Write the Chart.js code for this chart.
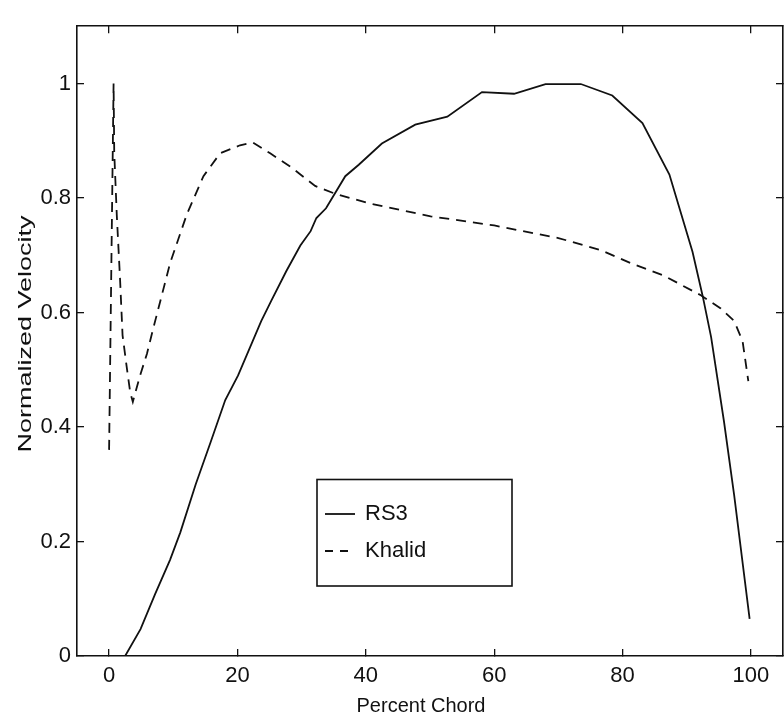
<!DOCTYPE html>
<html>
<head>
<meta charset="utf-8">
<script src="https://cdn.jsdelivr.net/npm/chart.js@4"></script>
<style>
  html, body { margin: 0; padding: 0; background: #fff; }
</style>
</head>
<body>
<canvas id="velocityChart" width="784" height="719"></canvas>
<script>
// RS3 measured profile
const rs3Chord = [2.5, 4.9, 7.2, 9.5, 11.1, 13.5, 15.8, 18.1, 20.1, 23.7, 25.3, 27.6, 29.8, 31.4, 32.3, 33.8, 36.8, 38.9, 42.5, 47.7, 52.7, 58.1, 63.1, 68.0, 73.5, 78.4, 83.1, 87.3, 90.9, 92.5, 93.8, 95.8, 97.4, 99.8];
const rs3Vel = [0.0, 0.047, 0.109, 0.168, 0.216, 0.30, 0.373, 0.447, 0.49, 0.585, 0.621, 0.672, 0.717, 0.742, 0.765, 0.782, 0.838, 0.858, 0.895, 0.928, 0.942, 0.985, 0.982, 0.999, 0.999, 0.979, 0.931, 0.841, 0.706, 0.628, 0.557, 0.41, 0.28, 0.065];

// Khalid profile
const khalidChord = [0, 0.7, 0.8, 1.2, 1.7, 2.1, 2.8, 3.3, 3.7, 4.8, 5.9, 6.9, 9.5, 12.1, 14.7, 17.3, 20.4, 22.4, 25.1, 28.2, 32.1, 35.3, 40.7, 45.4, 50.1, 60, 70, 76.6, 81.3, 86.5, 92.2, 95.3, 97.4, 98.7, 99.6];
const khalidVel = [0.36, 1.0, 0.88, 0.77, 0.66, 0.56, 0.50, 0.46, 0.444, 0.489, 0.528, 0.573, 0.686, 0.771, 0.838, 0.878, 0.892, 0.897, 0.878, 0.855, 0.821, 0.807, 0.79, 0.779, 0.768, 0.752, 0.73, 0.709, 0.686, 0.664, 0.63, 0.607, 0.585, 0.55, 0.48];

const xTicks = [0, 20, 40, 60, 80, 100];
const yTicks = [0, 0.2, 0.4, 0.6, 0.8, 1];

const FONT = "'Liberation Sans', Arial, Helvetica, sans-serif";
const INK = '#111';

function toPoints(xs, ys) {
  return xs.map((x, i) => ({ x: x, y: ys[i] }));
}

// ticks pointing inward, matlab style box
function boxAxis(position, ticks, extra) {
  return Object.assign({
    type: 'linear',
    position: position,
    afterBuildTicks: s => { s.ticks = ticks.map(v => ({ value: v })); },
    grid: { display: true, drawOnChartArea: false, drawTicks: true, tickLength: -7, color: INK, lineWidth: 1.3 },
    border: { display: true, color: INK, width: 1.6 },
    ticks: { display: false }
  }, extra);
}

// axis titles + boxed legend
const decorations = {
  id: 'decorations',
  afterDraw(chart) {
    const ctx = chart.ctx;
    ctx.save();
    ctx.fillStyle = INK;

    ctx.font = '20px ' + FONT;
    ctx.textAlign = 'center';
    ctx.textBaseline = 'middle';
    ctx.fillText('Percent Chord', 421, 706);

    ctx.save();
    ctx.translate(26, 334);
    ctx.rotate(-Math.PI / 2);
    ctx.scale(1.42, 1);
    ctx.font = '19px ' + FONT;
    ctx.fillText('Normalized Velocity', 0, 0);
    ctx.restore();

    ctx.fillStyle = '#fff';
    ctx.fillRect(317, 479.5, 195, 106.5);
    ctx.strokeStyle = INK;
    ctx.lineWidth = 1.6;
    ctx.strokeRect(317, 479.5, 195, 106.5);

    ctx.font = '22px ' + FONT;
    ctx.textAlign = 'left';
    ctx.fillStyle = INK;
    chart.data.datasets.forEach((ds, i) => {
      const y = 514 + i * 37;
      ctx.setLineDash(ds.borderDash ? [8, 7] : []);
      ctx.lineWidth = 1.8;
      ctx.beginPath();
      ctx.moveTo(325, y);
      ctx.lineTo(355, y);
      ctx.stroke();
      ctx.setLineDash([]);
      ctx.fillText(ds.label, 365, y);
    });
    ctx.restore();
  }
};

new Chart(document.getElementById('velocityChart'), {
  type: 'line',
  data: {
    datasets: [
      {
        label: 'RS3',
        data: toPoints(rs3Chord, rs3Vel),
        borderColor: INK,
        borderWidth: 1.8,
        pointRadius: 0,
        tension: 0,
        fill: false
      },
      {
        label: 'Khalid',
        data: toPoints(khalidChord, khalidVel),
        borderColor: INK,
        borderWidth: 1.8,
        borderDash: [10, 7],
        pointRadius: 0,
        tension: 0,
        fill: false
      }
    ]
  },
  options: {
    responsive: false,
    animation: false,
    layout: { padding: { top: 6, right: 1, left: 0, bottom: 0 } },
    plugins: {
      legend: { display: false },
      tooltip: { enabled: false }
    },
    scales: {
      x: boxAxis('bottom', xTicks, {
        min: -5, max: 105,
        afterFit: s => { s.height = 63; },
        ticks: { display: true, padding: 14, color: INK, font: { family: FONT, size: 22 }, maxRotation: 0 }
      }),
      y: boxAxis('left', yTicks, {
        min: 0, max: 1.1,
        afterFit: s => { s.width = 77; },
        ticks: {
          display: true, padding: 13, color: INK, font: { family: FONT, size: 22 },
          callback: v => String(Number(v.toFixed(1)))
        }
      }),
      x2: boxAxis('top', xTicks, {
        min: -5, max: 105,
        afterFit: s => { s.height = 0; }
      }),
      y2: boxAxis('right', yTicks, {
        min: 0, max: 1.1,
        afterFit: s => { s.width = 0; }
      })
    }
  },
  plugins: [decorations]
});
</script>
</body>
</html>
